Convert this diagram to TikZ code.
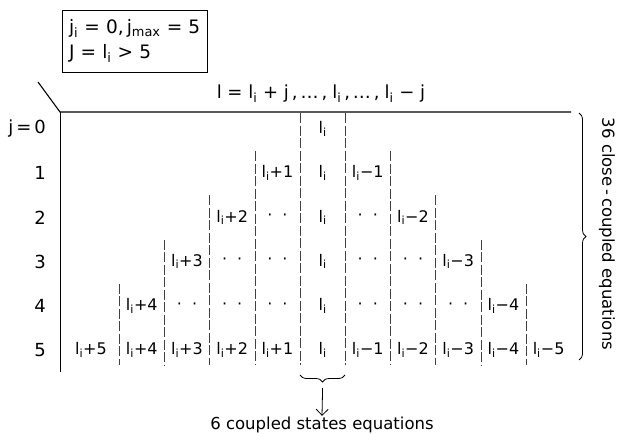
\documentclass[tikz,border=0pt]{standalone}
\usepackage{fontspec}
\setmainfont{DejaVu Sans}
\usetikzlibrary{arrows.meta, decorations.pathreplacing, calc}
\newcommand{\li}{l\textsubscript{i}}
\tikzset{
  cell/.style={font=\fontsize{16}{18}\selectfont, inner sep=1pt},
  rowlbl/.style={font=\fontsize{18}{20}\selectfont, anchor=east, inner sep=1pt},
  note/.style={font=\fontsize{16.5}{19}\selectfont, inner sep=1pt},
  divline/.style={line width=0.5pt, dash pattern=on 10pt off 2.5pt, black!75},
  axisline/.style={line width=1.1pt},
  brc/.style={decorate, decoration={brace, amplitude=7pt}, line width=0.8pt},
  arr/.style={-{Straight Barb[length=6pt]}, line width=0.8pt},
}

\begin{document}
\begin{tikzpicture}[x=1pt, y=-1pt]
    \useasboundingbox (0,0) rectangle (620,433);

    % conditions
    \node[draw, line width=0.8pt, minimum width=145, minimum height=62, text width=131,
      align=left, font=\fontsize{18.5}{25}\selectfont] (cond) at (134.5,41)
      {\mbox{j\textsubscript{i} = 0,\,j\textsubscript{max}~= 5}\\\mbox{J = \li{} > 5}};

    % axes
    \coordinate (tick) at (38,82);
    \coordinate (corner) at (60,112);
    \coordinate (topend) at (571,112);
    \coordinate (axbot) at (60,372);
    \draw[axisline] (tick) -- (corner) -- (topend);
    \draw[line width=0.8pt] (corner) -- (axbot);
    \node[note, font=\fontsize{18}{20}\selectfont] (hdr) at (321,94)
      {l = \li{} + j\,,\,\dots\,,\;\li\,,\,\dots\,,\;\li{} − j};

    % row labels
    \foreach \j in {0,...,5}{
      \pgfmathsetmacro\cy{129+44.2*\j}
      \ifnum\j=0 \def\rl{j\,=\,0}\else\def\rl{\j}\fi
      \node[rowlbl] (row\j) at (47,\cy) {\rl};
    }

    % column dividers
    \foreach \m in {1,...,5}{
      \pgfmathsetmacro\xl{300-45.2*(\m-1)}
      \pgfmathsetmacro\xr{345.2+45.2*(\m-1)}
      \pgfmathsetmacro\yt{\m==1 ? 113 : 129+44.2*(\m-1)-22}
      \draw[divline] (\xl,\yt) -- (\xl,365);
      \draw[divline] (\xr,\yt) -- (\xr,365);
    }

    % cells
    \foreach \j in {0,...,5}{
      \foreach \c in {-5,...,5}{
        \pgfmathtruncatemacro\ab{abs(\c)}
        \pgfmathtruncatemacro\k{\c+5}
        \ifnum\ab>\j\else
          \pgfmathsetmacro\cx{\c==-5 ? 91 : 322.6+45.2*\c}
          \pgfmathsetmacro\cy{129+44.2*\j}
          \ifnum\c=0 \def\txt{\li}%
          \else\ifnum\c<0 \def\txt{\li+\ab}%
          \else\def\txt{\li−\ab}\fi\fi
          \ifnum\c=0 \else\ifnum\ab<\j \ifnum\j<5 \def\txt{·\hspace{10pt}·}\fi\fi\fi
          \node[cell] (c\j-\k) at (\cx,\cy) {\txt};
        \fi
      }
    }

    % close-coupled brace
    \coordinate (rb-top) at (579,113);
    \coordinate (rb-bot) at (579,360);
    \draw[brc] (rb-top) -- (rb-bot);
    \node[note, rotate=-90] (ccl) at (607,234) {36 close\,-\,coupled equations};

    % coupled states brace
    \coordinate (bb-r) at (345,375);
    \coordinate (bb-l) at (300,375);
    \draw[brc] (bb-r) -- (bb-l);
    \coordinate (bb-tip) at (322.6,388);
    \node[note] (cs) at (322,425) {6 coupled states equations};
    \draw[arr] (bb-tip) -- (cs.north);
\end{tikzpicture}
\end{document}
